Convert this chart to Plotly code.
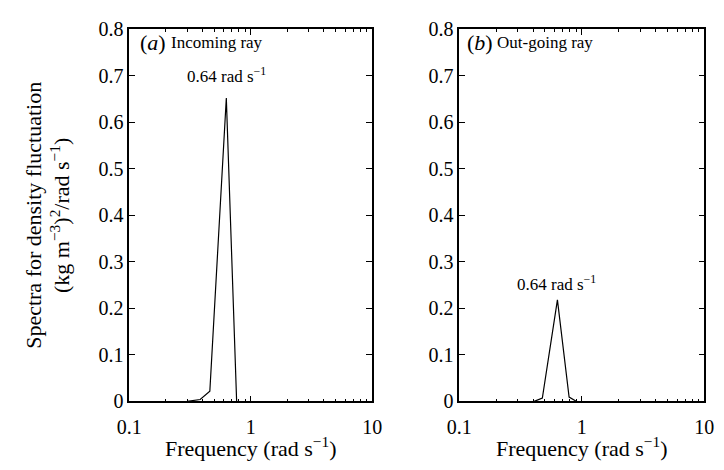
import plotly.graph_objects as go

# Data
freq_in = [0.30, 0.384, 0.461, 0.63, 0.766]
spec_in = [0.0, 0.004, 0.022, 0.652, 0.0]
freq_out = [0.408, 0.476, 0.632, 0.787, 0.90]
spec_out = [0.0, 0.007, 0.218, 0.009, 0.0]

x_tickvals = [0.1, 1, 10]
x_ticktext = ["0.1", "1", "10"]
x_minor = [0.2, 0.3, 0.4, 0.5, 0.6, 0.7, 0.8, 0.9, 2, 3, 4, 5, 6, 7, 8, 9]
y_tickvals = [0, 0.1, 0.2, 0.3, 0.4, 0.5, 0.6, 0.7, 0.8]
y_ticktext = ["0", "0.1", "0.2", "0.3", "0.4", "0.5", "0.6", "0.7", "0.8"]

W, H = 724, 470
FONT = "Liberation Serif"

def px(x):
    return x / W

def py(y):
    return 1 - y / H

fig = go.Figure()
fig.add_trace(go.Scatter(x=freq_in, y=spec_in, mode="lines",
                         line=dict(color="black", width=1.2),
                         xaxis="x", yaxis="y", showlegend=False))
fig.add_trace(go.Scatter(x=freq_out, y=spec_out, mode="lines",
                         line=dict(color="black", width=1.2),
                         xaxis="x2", yaxis="y2", showlegend=False))

xcommon = dict(type="log", range=[-1, 1], tickvals=x_tickvals, ticktext=x_ticktext,
               ticks="inside", ticklen=6, tickwidth=1, tickcolor="black",
               minor=dict(tickvals=x_minor, ticks="inside", ticklen=3,
                          tickwidth=1, tickcolor="black", showgrid=False),
               showline=True, linecolor="black", linewidth=1.5, mirror="ticks",
               showgrid=False, zeroline=False, ticklabelstandoff=7,
               tickfont=dict(family=FONT, size=20, color="black"))
ycommon = dict(range=[0, 0.8], tickvals=y_tickvals, ticktext=y_ticktext,
               ticks="inside", ticklen=6, tickwidth=1, tickcolor="black",
               showline=True, linecolor="black", linewidth=1.5, mirror="ticks",
               showgrid=False, zeroline=False,
               tickfont=dict(family=FONT, size=20, color="black"))

ydom = [py(409.5), py(19)]
fig.update_layout(
    width=W, height=H,
    margin=dict(l=0, r=0, t=0, b=0),
    paper_bgcolor="white", plot_bgcolor="white",
    xaxis=dict(domain=[px(120), px(371)], anchor="y", **xcommon),
    yaxis=dict(domain=ydom, anchor="x", **ycommon),
    xaxis2=dict(domain=[px(461), px(714)], anchor="y2", **xcommon),
    yaxis2=dict(domain=ydom, anchor="x2", **ycommon),
    font=dict(family=FONT, color="black"),
)

ann = []
def A(text, x, y, size, xanchor="center", yanchor="middle", angle=0):
    ann.append(dict(text=text, x=px(x), y=py(y), xref="paper", yref="paper",
                    showarrow=False, xanchor=xanchor, yanchor=yanchor,
                    textangle=angle, font=dict(family=FONT, size=size, color="black")))

# axis titles
A("Frequency (rad s<sup>−1</sup>)", 245.5, 457, 22)
A("Frequency (rad s<sup>−1</sup>)", 587.5, 457, 22)
A("Spectra for density fluctuation<br>(kg m<sup>−3</sup>)<sup>2</sup>/rad s<sup>−1</sup>)",
  36, 214, 22, angle=-90)

# panel labels
A("(<i>a</i>)", 129, 33, 22, xanchor="left")
A("Incoming ray", 161, 33, 17, xanchor="left")
A("(<i>b</i>)", 467, 33, 22, xanchor="left")
A("Out-going ray", 498, 33, 17, xanchor="left")

# peak labels
A("0.64 rad s<sup>−1</sup>", 220, 67, 17)
A("0.64 rad s<sup>−1</sup>", 561, 285, 17)

fig.update_layout(annotations=ann)
fig.write_html("out.html", config={"displayModeBar": False},
               post_script="document.body.style.margin='0px';document.body.style.overflow='hidden';")
